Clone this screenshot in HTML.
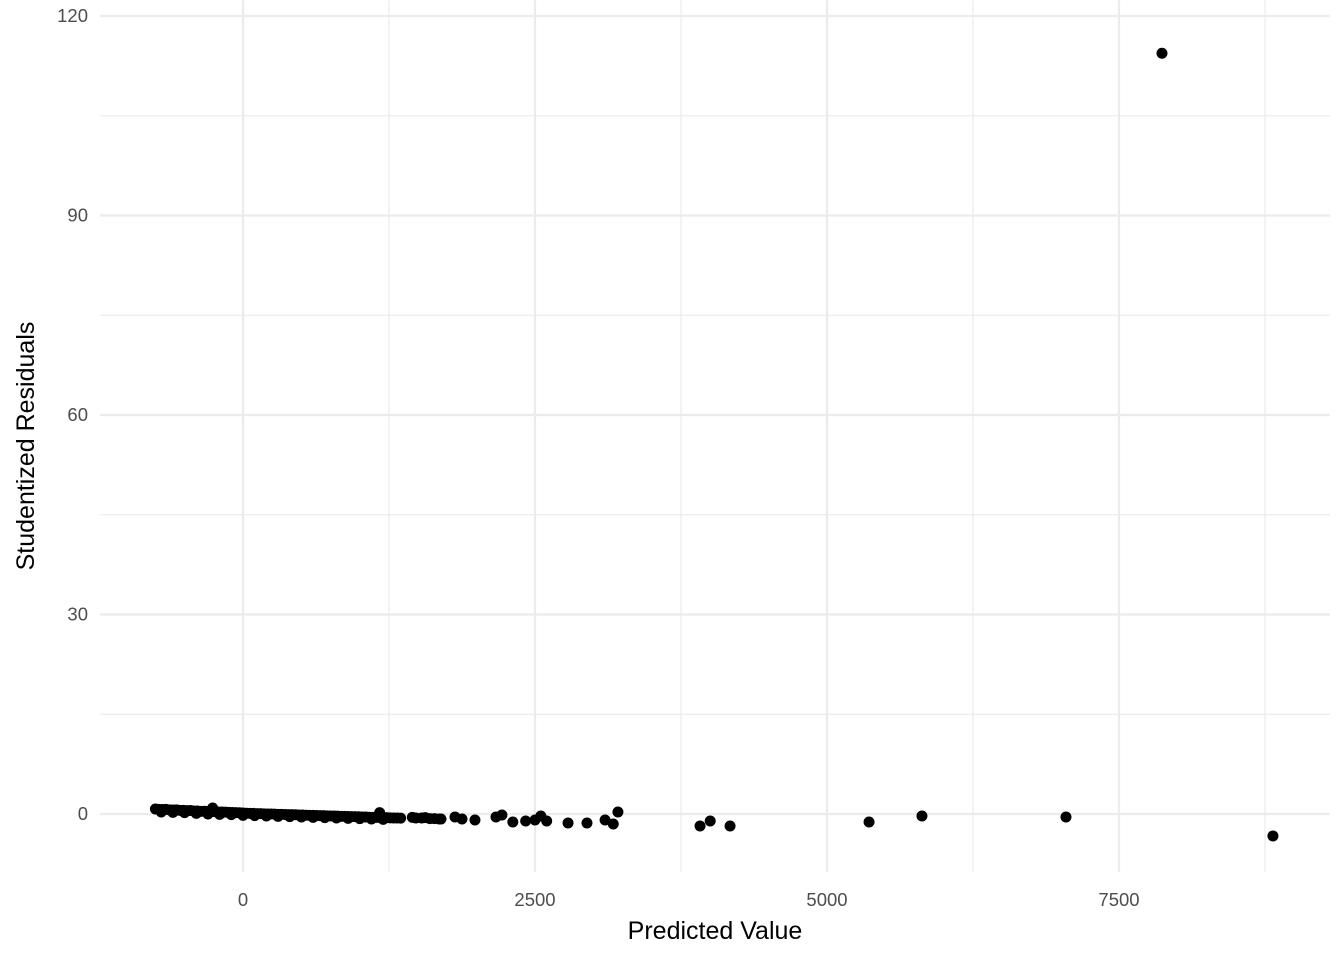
<!DOCTYPE html>
<html><head><meta charset="utf-8"><style>
body{margin:0;background:#fff;}
svg{display:block;font-family:"Liberation Sans",sans-serif;}
</style></head><body>
<svg id="chart" width="1344" height="960">
<g id="grid"></g><g id="pts"></g><g id="labels"></g>
<text x="715" y="939" font-size="25" text-anchor="middle" fill="#000">Predicted Value</text>
<text transform="translate(34,446) rotate(-90)" font-size="25" text-anchor="middle" fill="#000">Studentized Residuals</text>
</svg>
<script>
const xTicks=[0,2500,5000,7500];
const xMinor=[1250,3750,6250,8750];
const yTicks=[0,30,60,90,120];
const yMinor=[15,45,75,105];
const predicted=[-750,-720,-690,-660,-630,-600,-570,-540,-510,-480,-450,-420,-390,-360,-330,-300,-270,-240,-210,-180,-150,-120,-90,-60,-30,0,30,60,90,120,150,180,210,240,270,300,330,360,390,420,450,480,510,540,570,600,630,660,690,720,750,780,810,840,870,900,930,960,990,1020,1050,1080,1110,1140,1170,1200,1230,1260,1290,1320,1350,
-700,-600,-500,-400,-300,-200,-100,0,100,200,300,400,500,600,700,800,900,1000,1100,1200,-260,1170,
1450,1480,1530,1560,1600,1640,1680,1695,1815,1875,1986,2166,2217,2310,2420,2500,2550,2600,2783,2945,3100,3170,3210,3913,4000,4170,5360,5813,7046,7868,8818];
const residuals=[0.75,0.7,0.68,0.7,0.62,0.6,0.62,0.55,0.55,0.5,0.52,0.45,0.45,0.4,0.42,0.38,0.35,0.35,0.3,0.3,0.28,0.25,0.22,0.2,0.18,0.15,0.12,0.1,0.1,0.05,0.05,0.02,0.0,0.0,-0.02,-0.05,-0.05,-0.08,-0.1,-0.1,-0.12,-0.15,-0.15,-0.18,-0.2,-0.2,-0.22,-0.25,-0.25,-0.28,-0.3,-0.3,-0.32,-0.35,-0.35,-0.38,-0.4,-0.4,-0.42,-0.45,-0.45,-0.48,-0.5,-0.5,-0.52,-0.55,-0.55,-0.58,-0.6,-0.6,-0.62,
0.3,0.25,0.2,0.1,0.0,-0.05,-0.1,-0.2,-0.25,-0.3,-0.35,-0.4,-0.45,-0.5,-0.55,-0.6,-0.65,-0.7,-0.75,-0.8,0.9,0.2,
-0.5,-0.6,-0.6,-0.55,-0.7,-0.7,-0.75,-0.75,-0.45,-0.75,-0.9,-0.45,-0.15,-1.2,-1.05,-0.9,-0.3,-1.05,-1.35,-1.35,-0.9,-1.5,0.3,-1.8,-1.05,-1.8,-1.2,-0.3,-0.45,114.4,-3.3];
const X=v=>243+v*0.1168, Y=v=>814-v*6.65;
const ns="http://www.w3.org/2000/svg";
const grid=document.getElementById('grid'),pts=document.getElementById('pts'),lab=document.getElementById('labels');
function line(x1,y1,x2,y2,w,name){const l=document.createElementNS(ns,'line');
l.setAttribute('x1',x1);l.setAttribute('y1',y1);l.setAttribute('x2',x2);l.setAttribute('y2',y2);
l.setAttribute('stroke','#ebebeb');l.setAttribute('stroke-width',w);


grid.appendChild(l);}
function text(x,y,s,anchor,name){const t=document.createElementNS(ns,'text');
t.setAttribute('x',x);t.setAttribute('y',y);t.setAttribute('font-size','18.5');t.setAttribute('fill','#4d4d4d');t.setAttribute('text-anchor',anchor);t.textContent=s;


lab.appendChild(t);}
yMinor.forEach(v=>line(100,Y(v),1330,Y(v),1.2,'y-minor-gridline'));
xMinor.forEach(v=>line(X(v),0,X(v),872,1.2,'x-minor-gridline'));
yTicks.forEach(v=>{line(100,Y(v),1330,Y(v),2.2,'y-major-gridline');text(88,Y(v)+6,String(v),'end','y-tick-label');});
xTicks.forEach(v=>{line(X(v),0,X(v),872,2.2,'x-major-gridline');text(X(v),906,String(v),'middle','x-tick-label');});
predicted.forEach((p,i)=>{const c=document.createElementNS(ns,'circle');
c.setAttribute('cx',X(p));c.setAttribute('cy',Y(residuals[i]));c.setAttribute('r',5.5);c.setAttribute('fill','#000');


pts.appendChild(c);});
</script>
</body></html>
